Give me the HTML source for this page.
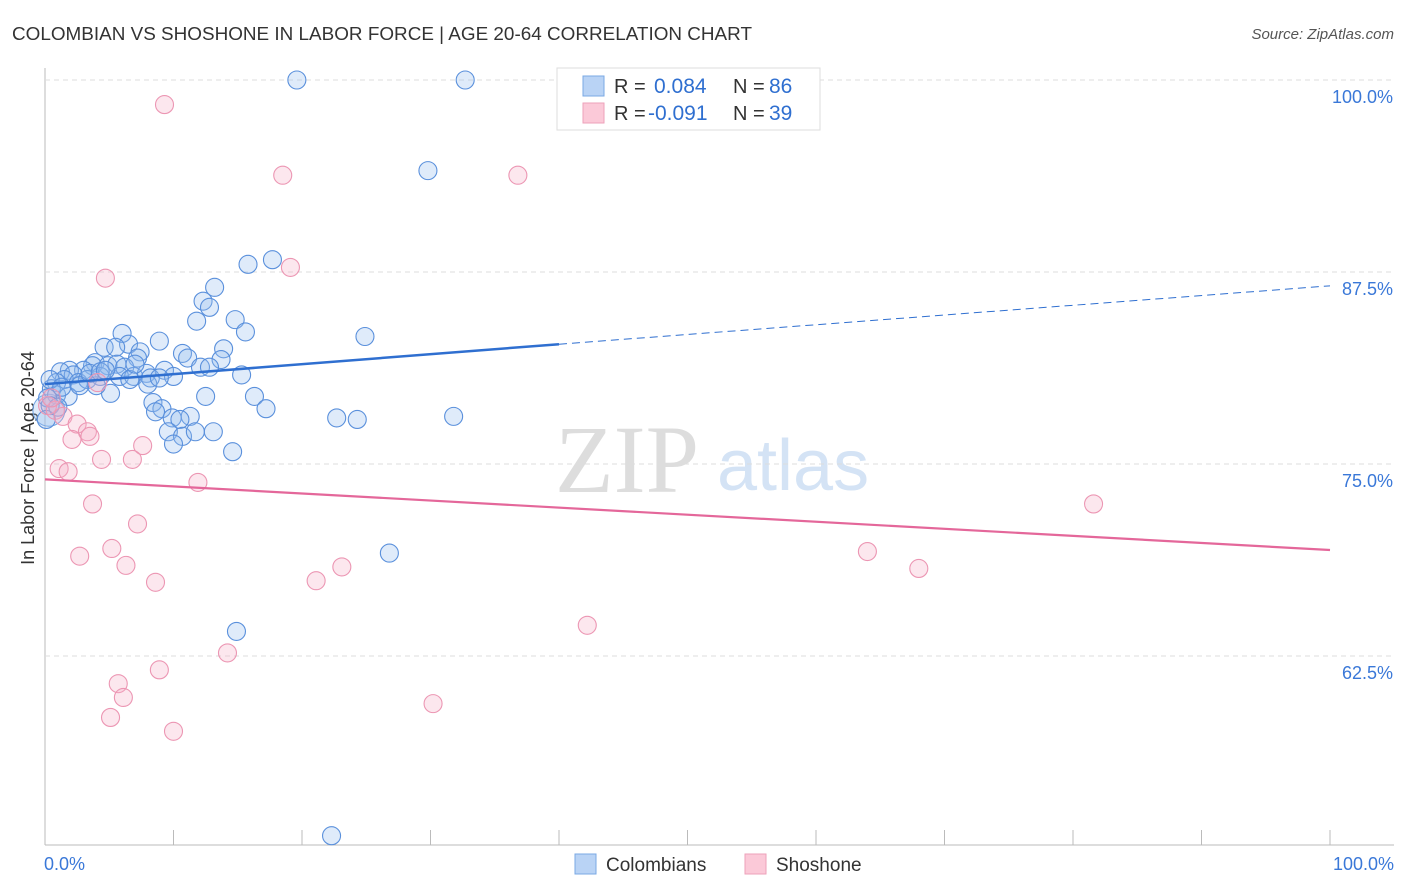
<!DOCTYPE html>
<html><head><meta charset="utf-8"><style>
body{margin:0;background:#fff;width:1406px;height:892px;overflow:hidden;font-family:"Liberation Sans",sans-serif}
</style></head><body>
<svg id="chart" width="1406" height="892" style="position:absolute;left:0;top:0">
<text x="12" y="40" font-size="18" fill="#333" textLength="740" lengthAdjust="spacingAndGlyphs">COLOMBIAN VS SHOSHONE IN LABOR FORCE | AGE 20-64 CORRELATION CHART</text>
<text x="1394" y="39" font-size="15" fill="#555" font-style="italic" text-anchor="end">Source: ZipAtlas.com</text>
<text x="555" y="492" font-size="96" fill="#ddd" font-family="Liberation Serif">ZIP</text>
<text x="717" y="490" font-size="72" fill="#d4e3f5">atlas</text>
<text x="34" y="458" font-size="18" fill="#333" text-anchor="middle" transform="rotate(-90 34 458)">In Labor Force | Age 20-64</text>
<g id="grid"></g><g id="pts"></g><g id="lines"></g>
<g>
<rect x="557" y="68" width="263" height="62" fill="#fff" stroke="#ddd"/>
<rect x="583" y="76" width="21" height="20" fill="#b9d3f5" stroke="#7aa8e4"/>
<rect x="583" y="103" width="21" height="20" fill="#fbc9d8" stroke="#eea1ba"/>
<text x="614" y="93" font-size="20" fill="#333">R = </text><text x="654" y="93" font-size="21" fill="#2f6fd0">0.084</text>
<text x="733" y="93" font-size="20" fill="#333">N = </text><text x="769" y="93" font-size="21" fill="#2f6fd0">86</text>
<text x="614" y="120" font-size="20" fill="#333">R = </text><text x="648" y="120" font-size="21" fill="#2f6fd0">-0.091</text>
<text x="733" y="120" font-size="20" fill="#333">N = </text><text x="769" y="120" font-size="21" fill="#2f6fd0">39</text>
</g>
<g>
<rect x="575" y="854" width="21" height="20" fill="#b9d3f5" stroke="#7aa8e4"/>
<text x="606" y="871" font-size="19" fill="#333">Colombians</text>
<rect x="745" y="854" width="21" height="20" fill="#fbc9d8" stroke="#eea1ba"/>
<text x="776" y="871" font-size="19" fill="#333">Shoshone</text>
</g>
</svg>
<script>
const blueX=[19.6,32.7,29.8,17.7,15.8,13.2,12.3,12.8,11.8,14.8,15.6,24.9,6.0,8.9,4.6,6.5,5.5,7.4,7.2,10.7,11.1,13.9,13.7,12.1,12.8,9.3,10.0,3.9,3.7,3.0,4.9,5.6,6.2,1.9,1.2,2.2,1.5,0.9,2.6,3.3,4.3,5.8,6.9,7.9,8.2,8.0,15.3,0.5,0.9,1.8,5.1,4.0,12.5,16.3,8.4,9.1,8.6,11.3,9.9,10.5,17.2,22.7,24.3,31.8,9.6,10.7,11.7,13.1,10.0,14.6,26.8,14.9,22.3,0.4,0.2,0.4,0.1,1.0,2.7,3.5,6.6,1.3,4.3,8.9,7.0,4.7];
const blueY=[100,100,94.1,88.3,88.0,86.5,85.6,85.2,84.3,84.4,83.6,83.3,83.5,83.0,82.6,82.8,82.6,82.3,81.9,82.2,81.9,82.5,81.8,81.3,81.3,81.1,80.7,81.6,81.4,81.1,81.4,81.5,81.3,81.1,81.0,80.8,80.5,80.3,80.3,80.5,80.7,80.7,80.7,80.9,80.6,80.2,80.8,79.9,79.5,79.4,79.6,80.1,79.4,79.4,79.0,78.6,78.4,78.1,78.0,77.9,78.6,78.0,77.9,78.1,77.1,76.8,77.1,77.1,76.3,75.8,69.2,64.1,50.8,80.5,79.3,78.8,77.9,78.7,80.1,80.9,80.5,80.0,81.0,80.6,81.5,81.1];
const pinkX=[9.3,18.5,36.8,19.1,4.7,0.2,0.8,1.4,2.5,3.3,3.5,2.1,7.6,4.4,6.8,1.1,1.8,11.9,3.7,7.2,5.2,2.7,6.3,8.6,21.1,23.1,81.6,64.0,68.0,42.2,8.9,14.2,5.7,6.1,30.2,5.1,10.0,4.1,0.5];
const pinkY=[98.4,93.8,93.8,87.8,87.1,78.8,78.5,78.1,77.6,77.1,76.8,76.6,76.2,75.3,75.3,74.7,74.5,73.8,72.4,71.1,69.5,69.0,68.4,67.3,67.4,68.3,72.4,69.3,68.2,64.5,61.6,62.7,60.7,59.8,59.4,58.5,57.6,80.3,79.3];
const blueTrend=[80.2,82.8,86.6]; // at x=0, 40, 100
const pinkTrend=[74.0,69.4]; // at x=0, 100
const yTicks=[100,87.5,75,62.5];
const xTickVals=[0,10,20,30,40,50,60,70,80,90,100];
const NS='http://www.w3.org/2000/svg';
const sx=v=>45+v*12.85, sy=v=>80+(100-v)*15.36;
function mk(t,a,p){const e=document.createElementNS(NS,t);for(const k in a)e.setAttribute(k,a[k]);p.appendChild(e);return e;}
const svg=document.getElementById('chart'),grid=document.getElementById('grid'),pts=document.getElementById('pts'),lines=document.getElementById('lines');
mk('line',{x1:45,y1:68,x2:45,y2:845,stroke:'#bbb'},grid);
mk('line',{x1:45,y1:845,x2:1394,y2:845,stroke:'#bbb'},grid);
yTicks.forEach(v=>{const g=mk('line',{x1:45,y1:sy(v),x2:1394,y2:sy(v),stroke:'#ddd','stroke-dasharray':'5,4'},grid);


const t=mk('text',{x:1393,y:sy(v)+23,'font-size':18,fill:'#3a78d8','text-anchor':'end'},svg);t.textContent=v.toFixed(1)+'%';

});
xTickVals.forEach(v=>{const l=mk('line',{x1:sx(v),y1:830,x2:sx(v),y2:845,stroke:'#bbb'},grid);

});
[[0,'0.0%',44,'start'],[100,'100.0%',1394,'end']].forEach(d=>{const t=mk('text',{x:d[2],y:870,'font-size':18,fill:'#3a78d8','text-anchor':d[3]},svg);t.textContent=d[1];

});
const big=mk('circle',{cx:sx(0.3),cy:sy(78.5),r:16,fill:'rgba(150,188,238,0.3)',stroke:'#6a9ee0','stroke-width':1},pts);


blueX.forEach((x,i)=>{const c=mk('circle',{cx:sx(x),cy:sy(blueY[i]),r:9,fill:'rgba(150,188,238,0.3)',stroke:'#5a90dc','stroke-width':1.1},pts);

});
pinkX.forEach((x,i)=>{const c=mk('circle',{cx:sx(x),cy:sy(pinkY[i]),r:9,fill:'rgba(246,176,200,0.3)',stroke:'#ec96b3','stroke-width':1.1},pts);

});
const b1=mk('line',{x1:sx(0),y1:sy(blueTrend[0]),x2:sx(40),y2:sy(blueTrend[1]),stroke:'#2f6fd0','stroke-width':2.5},lines);


const b2=mk('line',{x1:sx(40),y1:sy(blueTrend[1]),x2:sx(100),y2:sy(blueTrend[2]),stroke:'#2f6fd0','stroke-width':1,'stroke-dasharray':'8,5'},lines);


const p1=mk('line',{x1:sx(0),y1:sy(pinkTrend[0]),x2:sx(100),y2:sy(pinkTrend[1]),stroke:'#e4679a','stroke-width':2.2},lines);


</script>
</body></html>
